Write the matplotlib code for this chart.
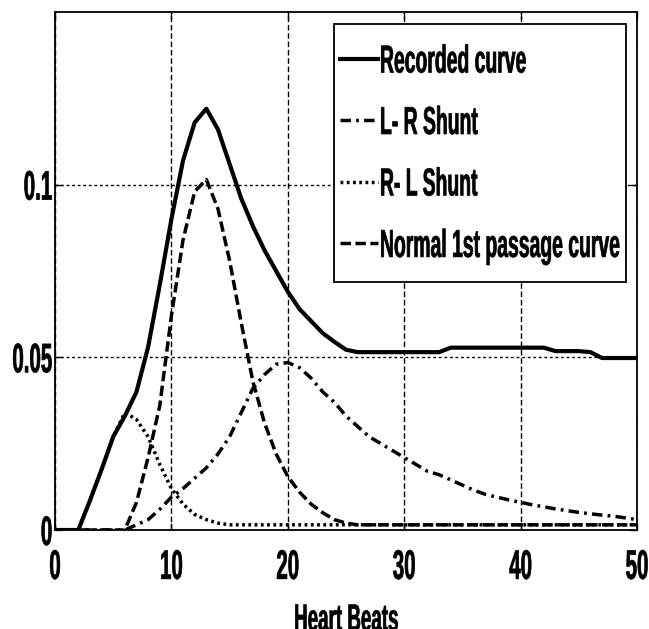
import numpy as np
import matplotlib
matplotlib.use("Agg")
import matplotlib.pyplot as plt
from matplotlib import font_manager as fm
from matplotlib.patheffects import AbstractPathEffect
from matplotlib.transforms import Affine2D
from matplotlib.path import Path

# ---------------- data ----------------
beats = list(range(0, 51))

recorded = [0, 0, 0, 0.0085, 0.0175, 0.027, 0.033, 0.040, 0.053, 0.071,
            0.090, 0.107, 0.118, 0.122, 0.116, 0.106, 0.096, 0.088, 0.081, 0.075,
            0.069, 0.064, 0.0605, 0.057, 0.0545, 0.0522, 0.0515, 0.0515, 0.0515, 0.0515,
            0.0515, 0.0515, 0.0515, 0.0515, 0.0528, 0.0528, 0.0528, 0.0528, 0.0528, 0.0528,
            0.0528, 0.0528, 0.0528, 0.0518, 0.0518, 0.0518, 0.0515, 0.0498, 0.0498, 0.0498,
            0.0498]

lr_shunt = [0, 0, 0, 0, 0, 0, 0, 0.0015, 0.003, 0.006,
            0.0095, 0.012, 0.015, 0.018, 0.022, 0.027, 0.034, 0.041, 0.045, 0.048,
            0.0485, 0.047, 0.044, 0.040, 0.037, 0.033, 0.030, 0.027, 0.025, 0.023,
            0.021, 0.019, 0.017, 0.016, 0.0145, 0.013, 0.0115, 0.0103, 0.0095, 0.0087,
            0.008, 0.0073, 0.0067, 0.0061, 0.0056, 0.0051, 0.0047, 0.0043, 0.004, 0.0035,
            0.003]

rl_shunt = [0, 0, 0, 0.0085, 0.0175, 0.027, 0.034, 0.032, 0.027, 0.019,
            0.012, 0.0075, 0.0045, 0.003, 0.002, 0.0015, 0.0015, 0.0015, 0.0015, 0.0015,
            0.0015, 0.0015, 0.0015, 0.0015, 0.0015, 0.0015, 0.0015, 0.0015, 0.0015, 0.0015,
            0.0015, 0.0015, 0.0015, 0.0015, 0.0015, 0.0015, 0.0015, 0.0015, 0.0015, 0.0015,
            0.0015, 0.0015, 0.0015, 0.0015, 0.0015, 0.0015, 0.0015, 0.0015, 0.0015, 0.0015,
            0.0015]

normal_first = [0, 0, 0, 0, 0, 0, 0, 0.008, 0.021, 0.036,
                0.062, 0.084, 0.098, 0.1015, 0.093, 0.078, 0.060, 0.043, 0.031, 0.022,
                0.0155, 0.011, 0.0075, 0.005, 0.003, 0.002, 0.0015, 0.0015, 0.0015, 0.0015,
                0.0015, 0.0015, 0.0015, 0.0015, 0.0015, 0.0015, 0.0015, 0.0015, 0.0015, 0.0015,
                0.0015, 0.0015, 0.0015, 0.0015, 0.0015, 0.0015, 0.0015, 0.0015, 0.0015, 0.0015,
                0.0015]

series_labels = ["Recorded curve", "L- R Shunt", "R- L Shunt", "Normal 1st passage curve"]
xticks = [0, 10, 20, 30, 40, 50]
yticks = [0, 0.05, 0.1]
ytick_labels = ["0", "0.05", "0.1"]
xlabel = "Heart Beats"

# ---------------- fonts ----------------
names = {f.name for f in fm.fontManager.ttflist}
if "Liberation Sans Narrow" in names:
    FONT, K = "Liberation Sans Narrow", 1.0
else:
    FONT, K = "Liberation Sans", 0.82


class Stretch(AbstractPathEffect):
    """Stretch glyphs vertically around the middle of the cap height, and embolden."""
    def __init__(self, sy, cy=36, stroke=0.5):
        super().__init__()
        self.sy = sy
        self.cy = cy
        self.stroke = stroke

    def draw_path(self, renderer, gc, tpath, affine, rgbFace=None):
        t = (Affine2D().translate(0, -self.cy).scale(1, self.sy)
             .translate(0, self.cy) + affine)
        gc0 = renderer.new_gc()
        gc0.copy_properties(gc)
        gc0.set_linewidth(self.stroke)
        gc0.set_foreground("black")
        renderer.draw_path(gc0, tpath, t, rgbFace)
        gc0.restore()


SY = 1.65 / K

# ---------------- figure ----------------
fig = plt.figure(figsize=(6.49, 6.29), dpi=100)
W, H = 649, 629
L, R, T, B = 55, 637, 12, 530
ax = fig.add_axes([L / W, (H - B) / H, (R - L) / W, (B - T) / H])

lw = 2.5
ax.plot(beats, recorded, color="black", lw=3.0, ls="-", label=series_labels[0])
ax.plot(beats, lr_shunt, color="black", lw=lw, ls=(0, (3.0, 1.5, 0.8, 1.5)),
        label=series_labels[1])
ax.plot(beats, rl_shunt, color="black", lw=lw, ls=(0, (0.8, 1.0)),
        label=series_labels[2])
ax.plot(beats, normal_first, color="black", lw=lw, ls=(0, (3.0, 1.3)),
        label=series_labels[3])

ax.set_xlim(0, 50)
ax.set_ylim(0, 0.15)
ax.set_xticks(xticks)
ax.set_xticklabels([str(v) for v in xticks])
ax.set_yticks(yticks)
ax.set_yticklabels(ytick_labels)

ax.xaxis.grid(True, color="black", lw=1.0, ls=(0, (4, 2)))
ax.yaxis.grid(True, color="black", lw=1.0, ls=(0, (2, 2)))
ax.set_axisbelow(True)

for s in ax.spines.values():
    s.set_linewidth(1.3)
    s.set_color("black")

ax.tick_params(axis="both", which="both", direction="in", length=5, width=1,
               top=True, right=True, colors="black")
ax.tick_params(axis="x", pad=19)
ax.tick_params(axis="y", pad=2)

tick_fs = 18 * K
for lab in ax.get_xticklabels() + ax.get_yticklabels():
    lab.set_fontfamily(FONT)
    lab.set_fontweight("bold")
    lab.set_fontsize(tick_fs)
    lab.set_path_effects([Stretch(SY)])

xl = ax.set_xlabel(xlabel, fontfamily=FONT, fontweight="bold", fontsize=16.5 * K,
                   va="baseline", ha="center")
xl.set_path_effects([Stretch(SY)])
ax.xaxis.set_label_coords(0.5, -0.181)

# legend
EY = 22


def tall_box(x0, y0, width, height, mutation_size):
    return Path([(x0, y0 - EY), (x0 + width, y0 - EY), (x0 + width, y0 + height + EY),
                 (x0, y0 + height + EY), (x0, y0 - EY)], closed=True)


leg_fs = 17 * K
leg = ax.legend(loc="upper right",
                bbox_to_anchor=((626 - L) / (R - L), ((H - 24 - EY) - (H - B)) / (B - T)),
                borderaxespad=0, prop={"family": FONT, "weight": "bold", "size": leg_fs},
                handlelength=1.6 / K, handletextpad=0.1 / K, borderpad=0.25 / K,
                labelspacing=1.86 / K, frameon=True, fancybox=False, framealpha=1,
                edgecolor="black")
leg.get_frame().set_linewidth(1.3)
leg.get_frame().set_boxstyle(tall_box)
for t in leg.get_texts():
    t.set_path_effects([Stretch(SY)])

fig.savefig("out.png", dpi=100, facecolor="white")
